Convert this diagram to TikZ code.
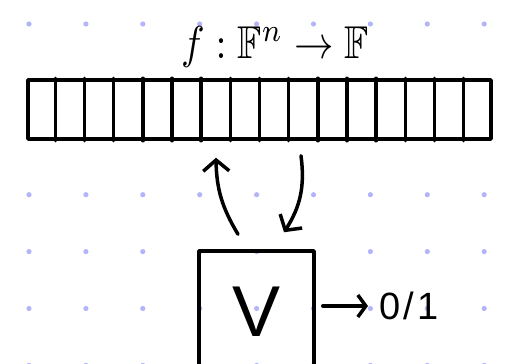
\documentclass[tikz,border=0pt]{standalone}
\usepackage{amssymb}
\usepackage{graphicx}
\usepackage{fontspec}
\newfontfamily\handfont{Liberation Sans}
\usetikzlibrary{arrows.meta,calc}
\definecolor{dotcol}{RGB}{180,180,250}
\begin{document}
\begin{tikzpicture}[x=1pt,y=-1pt,line cap=round,line join=round,
  ink/.style={line width=3.5pt,draw=black},
  arr/.style={ink,-{Straight Barb[length=11pt,width=26pt]}},
  outarr/.style={ink,-{Straight Barb[length=8pt,width=22pt]}}]
\useasboundingbox (0,0) rectangle (507,364);
\clip (0,0) rectangle (507,364);
% dot grid
\foreach \i in {0,...,8}
  \foreach \j in {0,...,6}
    \fill[dotcol] (29+56.9*\i,24+56.9*\j) circle (2.6pt);
% title
\node[anchor=base,inner sep=0pt] (title) at (275,58)
  {\scalebox{3.95}[4.6]{$f:\mathbb{F}^n\to\mathbb{F}$}};
% array bar
\node[ink,fill=white,minimum width=463pt,minimum height=59pt,inner sep=0pt] (bar) at (259.5,109.5) {};
\foreach \k in {1,...,15}
  \draw[ink] ($(bar.north west)!\k/16!(bar.north east)$) -- ($(bar.south west)!\k/16!(bar.south east)$);
% verifier box
\node[ink,minimum width=115pt,minimum height=121pt,inner sep=0pt,
  font=\handfont\fontsize{72}{80}\selectfont] (ver) at (256.5,311.5) {V};
% output
\node[anchor=west,inner sep=0pt,font=\handfont\fontsize{38}{44}\selectfont] (out) at (379,306) {0\hspace{3pt}/\hspace{4pt}1};
% connectors
\draw[arr] ([xshift=-18.5pt,yshift=15pt]ver.north) to[bend left=15] ([xshift=-43.5pt,yshift=-17pt]bar.south);
\draw[arr] ([xshift=41.5pt,yshift=-15pt]bar.south) to[bend left=20] ([xshift=27.5pt,yshift=17pt]ver.north);
\draw[outarr] ([xshift=7pt,yshift=5.5pt]ver.east) -- ([xshift=-11pt]out.west);
\end{tikzpicture}
\end{document}
